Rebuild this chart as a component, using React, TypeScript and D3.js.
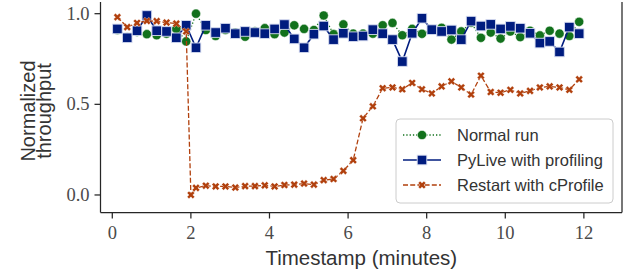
import React from "react";
import * as d3 from "d3";

const minutes = [0.13, 0.38, 0.63, 0.88, 1.13, 1.38, 1.63, 1.88, 2.13, 2.38, 2.63, 2.88, 3.13, 3.38, 3.63, 3.88, 4.13, 4.38, 4.63, 4.88, 5.13, 5.38, 5.63, 5.88, 6.13, 6.38, 6.63, 6.88, 7.13, 7.38, 7.63, 7.88, 8.13, 8.38, 8.63, 8.88, 9.13, 9.38, 9.63, 9.88, 10.13, 10.38, 10.63, 10.88, 11.13, 11.38, 11.63, 11.88];

const normalRun = [0.91, 0.87, 0.9, 0.887, 0.881, 0.89, 0.916, 0.847, 1.0, 0.91, 0.877, 0.91, 0.896, 0.873, 0.902, 0.92, 0.887, 0.896, 0.936, 0.916, 0.91, 0.99, 0.887, 0.941, 0.89, 0.89, 0.89, 0.936, 0.949, 0.881, 0.916, 0.889, 0.91, 0.922, 0.857, 0.902, 0.95, 0.867, 0.896, 0.863, 0.902, 0.871, 0.906, 0.88, 0.906, 0.89, 0.877, 0.955];

const pyLive = [0.916, 0.867, 0.906, 0.99, 0.906, 0.902, 0.867, 0.936, 0.812, 0.936, 0.896, 0.92, 0.89, 0.902, 0.896, 0.89, 0.916, 0.94, 0.861, 0.812, 0.887, 0.932, 0.857, 0.892, 0.873, 0.877, 0.912, 0.89, 0.857, 0.736, 0.892, 0.975, 0.912, 0.902, 0.91, 0.857, 0.959, 0.932, 0.941, 0.916, 0.93, 0.92, 0.892, 0.838, 0.847, 0.789, 0.926, 0.89];

const restartMinutes = [0.13, 0.38, 0.63, 0.88, 1.13, 1.38, 1.63, 1.88, 2.0, 2.13, 2.38, 2.63, 2.88, 3.13, 3.38, 3.63, 3.88, 4.13, 4.38, 4.63, 4.88, 5.13, 5.38, 5.63, 5.88, 6.13, 6.38, 6.63, 6.88, 7.13, 7.38, 7.63, 7.88, 8.13, 8.38, 8.63, 8.88, 9.13, 9.38, 9.63, 9.88, 10.13, 10.38, 10.63, 10.88, 11.13, 11.38, 11.63, 11.88];

const restartCProfile = [0.981, 0.926, 0.949, 0.96, 0.959, 0.951, 0.945, 0.902, 0.0, 0.039, 0.051, 0.047, 0.047, 0.041, 0.049, 0.049, 0.053, 0.047, 0.055, 0.057, 0.063, 0.057, 0.082, 0.088, 0.133, 0.192, 0.423, 0.489, 0.589, 0.593, 0.583, 0.618, 0.583, 0.56, 0.599, 0.627, 0.593, 0.554, 0.658, 0.568, 0.564, 0.58, 0.56, 0.574, 0.593, 0.599, 0.593, 0.58, 0.638];

const xTicks = [0, 2, 4, 6, 8, 10, 12];
const yTicks = [0.0, 0.5, 1.0];
const seriesNames = ["Normal run", "PyLive with profiling", "Restart with cProfile"];

const GREEN = "#12711c";
const BLUE = "#001c7f";
const ORANGE = "#b1400d";
const AX = "#262626";

const SERIF = "'Liberation Serif', 'DejaVu Serif', serif";
const SANS = "'Liberation Sans', 'DejaVu Sans', sans-serif";

const left = 100.5, right = 622, top = 2, bottom = 212.5;

export default function App() {
  const x = d3.scaleLinear().domain([-0.3, 12.97]).range([left, right]);
  const y = d3.scaleLinear().domain([-0.0967, 1.0645]).range([bottom, top]);

  const toPts = (xs: number[], ys: number[]) => xs.map((t, i) => [t, ys[i]] as [number, number]);
  const line = d3.line<[number, number]>().x(d => x(d[0])).y(d => y(d[1]));

  const green = toPts(minutes, normalRun);
  const blue = toPts(minutes, pyLive);
  const orange = toPts(restartMinutes, restartCProfile);

  const xMarker = d3.symbol().type(d3.symbolCross).size(36)() as string;

  const circle = (cx: number, cy: number, k: string) => (
    <circle key={k} cx={cx} cy={cy} r={4.6} fill={GREEN} stroke="#ffffff" strokeOpacity={0.6} strokeWidth={0.8} />
  );
  const square = (cx: number, cy: number, k: string) => (
    <rect key={k} x={cx - 4.8} y={cy - 4.8} width={9.6} height={9.6} fill={BLUE} stroke="#d6dcf0" strokeWidth={0.9} />
  );
  const cross = (cx: number, cy: number, k: string) => (
    <path key={k} d={xMarker} transform={`translate(${cx},${cy}) rotate(45)`} fill={ORANGE} stroke="#ffffff" strokeOpacity={0.5} strokeWidth={0.6} />
  );

  const legendY = [135, 160, 185];

  return (
    <svg width={624} height={272} style={{ position: "absolute", left: 0, top: 0, background: "#fff" }}>
      <rect width={624} height={272} fill="#fff" />
      {/* series */}
      <path d={line(green) as string} fill="none" stroke={GREEN} strokeWidth={1.3} strokeDasharray="1.3,2" />
      {green.map((p, i) => circle(x(p[0]), y(p[1]), "g" + i))}
      <path d={line(blue) as string} fill="none" stroke={BLUE} strokeWidth={1.6} />
      {blue.map((p, i) => square(x(p[0]), y(p[1]), "b" + i))}
      <path d={line(orange) as string} fill="none" stroke={ORANGE} strokeWidth={1.3} strokeDasharray="5,2.2" />
      {orange.map((p, i) => cross(x(p[0]), y(p[1]), "o" + i))}

      {/* spines */}
      <line x1={left} x2={left} y1={top} y2={bottom} stroke={AX} strokeWidth={1.25} />
      <line x1={right} x2={right} y1={top} y2={bottom} stroke={AX} strokeWidth={1.25} />
      <line x1={left} x2={right} y1={bottom} y2={bottom} stroke={AX} strokeWidth={1.25} />

      {/* x ticks */}
      {xTicks.map(t => (
        <g key={"xt" + t}>
          <line x1={x(t)} x2={x(t)} y1={bottom} y2={bottom + 6} stroke={AX} strokeWidth={1.25} />
          <text x={x(t)} y={bottom + 26} textAnchor="middle" fontFamily={SERIF} fontSize={18.5} fill="#4a4a4a">{t}</text>
        </g>
      ))}
      {/* y ticks */}
      {yTicks.map(t => (
        <g key={"yt" + t}>
          <line x1={left - 6} x2={left} y1={y(t)} y2={y(t)} stroke={AX} strokeWidth={1.25} />
          <text x={left - 11} y={y(t) + 6} textAnchor="end" fontFamily={SERIF} fontSize={18.5} fill="#4a4a4a">{t.toFixed(1)}</text>
        </g>
      ))}

      {/* axis titles */}
      <text x={(left + right) / 2 + 0} y={265} textAnchor="middle" fontFamily={SANS} fontSize={20.5} fill="#333">Timestamp (minutes)</text>
      <g transform="translate(35,111) rotate(-90)">
        <text x={0} y={0} textAnchor="middle" fontFamily={SANS} fontSize={20} fill="#333">Normalized</text>
      </g>
      <g transform="translate(51,111) rotate(-90)">
        <text x={0} y={0} textAnchor="middle" fontFamily={SANS} fontSize={20} fill="#333">throughput</text>
      </g>

      {/* legend */}
      <rect x={396} y={119} width={217} height={84} rx={4} fill="#ffffff" fillOpacity={0.85} stroke="#cccccc" strokeWidth={1} />
      {seriesNames.map((name, i) => {
        const ly = legendY[i];
        const color = [GREEN, BLUE, ORANGE][i];
        const dash = ["1.3,2", undefined, "5,2.2"][i];
        return (
          <g key={"lg" + i}>
            <line x1={403} x2={441} y1={ly} y2={ly} stroke={color} strokeWidth={i === 1 ? 1.6 : 1.3} strokeDasharray={dash} />
            {i === 0 ? circle(422, ly, "lc") : i === 1 ? square(422, ly, "ls") : cross(422, ly, "lx")}
            <text x={457} y={ly + 6} fontFamily={SANS} fontSize={16.5} fill="#333">{name}</text>
          </g>
        );
      })}
    </svg>
  );
}
